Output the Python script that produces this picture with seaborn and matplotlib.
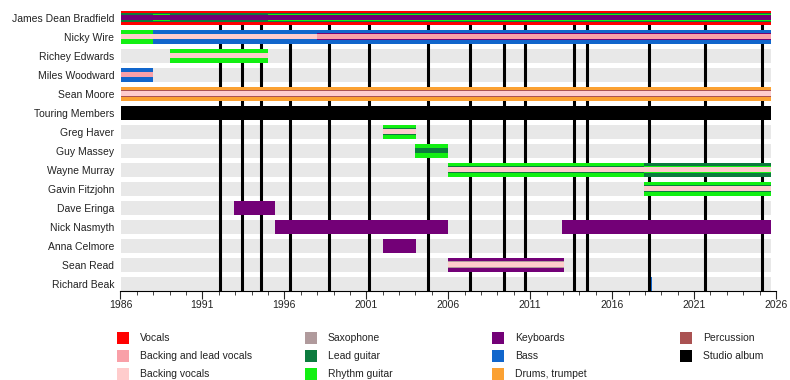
import numpy as np
import pandas as pd
import matplotlib
matplotlib.use("Agg")
import matplotlib.pyplot as plt
import seaborn as sns
from matplotlib.patches import Rectangle

# ---- data ----
members = ["James Dean Bradfield", "Nicky Wire", "Richey Edwards", "Miles Woodward",
           "Sean Moore", "Touring Members", "Greg Haver", "Guy Massey", "Wayne Murray",
           "Gavin Fitzjohn", "Dave Eringa", "Nick Nasmyth", "Anna Celmore", "Sean Read",
           "Richard Beak"]

roles = ["Vocals", "Backing and lead vocals", "Backing vocals", "Saxophone",
         "Lead guitar", "Rhythm guitar", "Keyboards", "Bass", "Drums, trumpet",
         "Percussion", "Studio album"]
role_colors = ["#ff0000", "#f9a0a8", "#ffcccc", "#b09a9c", "#0c7b3e", "#12f012",
               "#730077", "#1166cc", "#fba132", "#aa5252", "#000000"]

albums = [1992.07, 1993.41, 1994.57, 1996.37, 1998.70, 2001.16, 2004.76, 2007.33,
          2009.38, 2010.70, 2013.67, 2014.46, 2018.25, 2021.66, 2025.14]

START = 1986
END = 2025.7

# (member, role, from, till, layer) -- layer 0 is the full bar, higher layers are stripes
spells = [
    ("James Dean Bradfield", "Vocals", START, END, 0),
    ("James Dean Bradfield", "Lead guitar", START, END, 1),
    ("James Dean Bradfield", "Rhythm guitar", 1988, 1989, 2),
    ("James Dean Bradfield", "Rhythm guitar", 1995, END, 2),
    ("James Dean Bradfield", "Keyboards", START, END, 3),
    ("Nicky Wire", "Rhythm guitar", START, 1988, 0),
    ("Nicky Wire", "Bass", 1988, END, 0),
    ("Nicky Wire", "Backing vocals", START, 1998, 3),
    ("Nicky Wire", "Keyboards", 1998, END, 2),
    ("Nicky Wire", "Backing and lead vocals", 1998, END, 3),
    ("Richey Edwards", "Rhythm guitar", 1989, 1995, 0),
    ("Richey Edwards", "Backing vocals", 1989, 1995, 3),
    ("Miles Woodward", "Bass", START, 1988, 0),
    ("Miles Woodward", "Backing and lead vocals", START, 1988, 3),
    ("Sean Moore", "Drums, trumpet", START, END, 0),
    ("Sean Moore", "Percussion", START, END, 2),
    ("Sean Moore", "Backing vocals", START, END, 3),
    ("Touring Members", "Studio album", START, END, 0),
    ("Greg Haver", "Rhythm guitar", 2002, 2004.05, 0),
    ("Greg Haver", "Lead guitar", 2002, 2004.05, 2),
    ("Greg Haver", "Backing vocals", 2002, 2004.05, 3),
    ("Guy Massey", "Rhythm guitar", 2004, 2006, 0),
    ("Guy Massey", "Lead guitar", 2004, 2006, 3),
    ("Wayne Murray", "Rhythm guitar", 2006, 2017.95, 0),
    ("Wayne Murray", "Lead guitar", 2006, 2017.95, 2),
    ("Wayne Murray", "Backing vocals", 2006, 2017.95, 3),
    ("Wayne Murray", "Lead guitar", 2017.95, END, 0),
    ("Wayne Murray", "Rhythm guitar", 2017.95, END, 2),
    ("Wayne Murray", "Backing vocals", 2017.95, END, 3),
    ("Gavin Fitzjohn", "Rhythm guitar", 2017.95, END, 0),
    ("Gavin Fitzjohn", "Lead guitar", 2017.95, END, 2),
    ("Gavin Fitzjohn", "Backing vocals", 2017.95, END, 3),
    ("Dave Eringa", "Keyboards", 1992.92, 1995.43, 0),
    ("Nick Nasmyth", "Keyboards", 1995.43, 2006, 0),
    ("Nick Nasmyth", "Keyboards", 2012.95, END, 0),
    ("Anna Celmore", "Keyboards", 2002, 2004.05, 0),
    ("Sean Read", "Keyboards", 2006, 2013.05, 0),
    ("Sean Read", "Saxophone", 2006, 2013.05, 2),
    ("Sean Read", "Backing vocals", 2006, 2013.05, 3),
    ("Richard Beak", "Bass", 2018.36, 2018.42, 0),
]

# ---- style ----
ROW_PX = 19.0
LAYER_PX = [14, 9, 7, 5]

sns.set_style("white")
plt.rcParams["font.family"] = ["Liberation Sans", "DejaVu Sans"]

df = pd.DataFrame(spells, columns=["member", "role", "start", "end", "layer"])
df["row"] = df["member"].map({m: i for i, m in enumerate(members)})
df["color"] = df["role"].map(dict(zip(roles, role_colors)))

fig = plt.figure(figsize=(7.9, 3.8), dpi=100)
ax = fig.add_axes([120.5 / 790, 1 - 290.7 / 380, (776 - 120.5) / 790, (290.7 - 10.5) / 380])

rows = np.arange(len(members))
# light grey band behind every row
ax.barh(rows, END - START, left=START, height=LAYER_PX[0] / ROW_PX,
        color="#e8e8e8", linewidth=0, zorder=1)

ylo, yhi = len(members) - 1 + 7 / ROW_PX, -7.2 / ROW_PX
ax.vlines(albums, yhi, ylo, color="black", linewidth=2.2, zorder=2)

for layer, grp in df.sort_values("layer").groupby("layer"):
    ax.barh(grp["row"], grp["end"] - grp["start"], left=grp["start"],
            height=LAYER_PX[layer] / ROW_PX, color=grp["color"], linewidth=0,
            zorder=3 + layer)

ax.set_xlim(1986, 2026)
ax.set_ylim(ylo, yhi)
ax.set_yticks(rows)
ax.set_yticklabels(members, fontsize=7.5, color="#222222")
ax.tick_params(axis="y", length=0, pad=4.5)
ax.set_xticks(np.arange(1986, 2027, 5))
ax.set_xticks(np.arange(1986, 2027, 1), minor=True)
ax.tick_params(axis="x", which="major", length=6, width=0.8, direction="out",
               labelsize=7.5, labelcolor="#222222", pad=0.5, bottom=True)
ax.tick_params(axis="x", which="minor", length=3, width=0.6, direction="out", bottom=True)
sns.despine(ax=ax, left=True, top=True, right=True)
ax.spines["bottom"].set_linewidth(0.8)
ax.spines["bottom"].set_color("black")
ax.set_facecolor("white")

# legend below the chart, filled column by column
for i, (name, col) in enumerate(zip(roles, role_colors)):
    c, r = divmod(i, 3)
    x0 = 117 + c * 187.7
    yc = 338 + r * 18
    fig.patches.append(Rectangle((x0 / 790, 1 - (yc + 6) / 380), 12 / 790, 12 / 380,
                                 transform=fig.transFigure, facecolor=col,
                                 edgecolor="none", figure=fig))
    fig.text((x0 + 23) / 790, 1 - yc / 380, name, fontsize=7.5, color="#222222",
             va="center", ha="left")

fig.savefig("out.png", dpi=100)
